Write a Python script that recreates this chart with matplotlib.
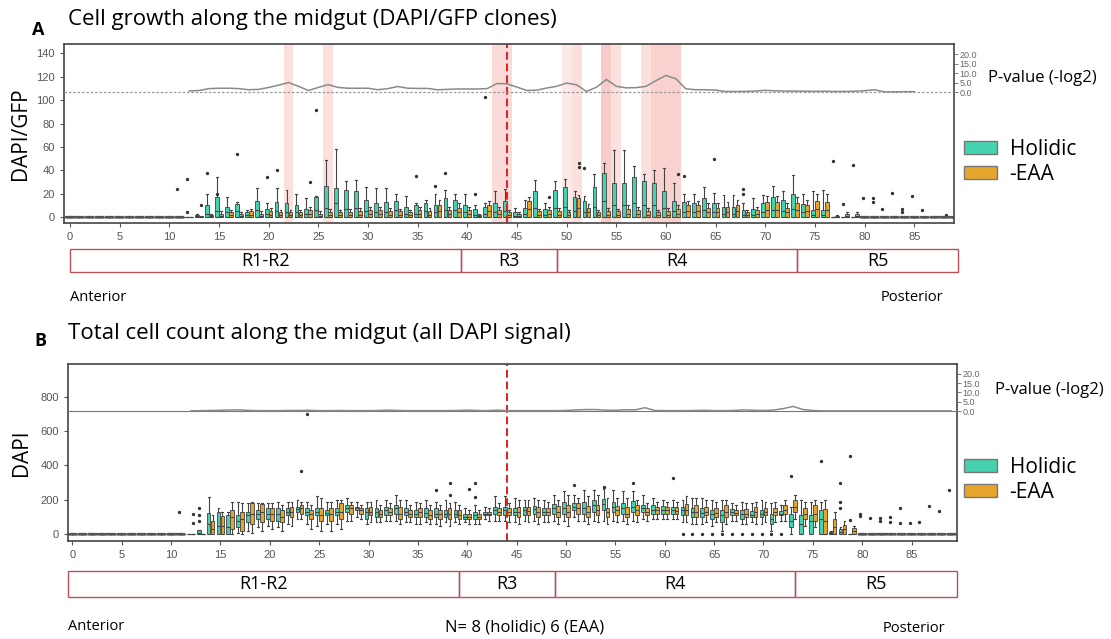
import matplotlib
matplotlib.use("Agg")
import matplotlib.pyplot as plt
from matplotlib.patches import Patch, Rectangle

# ---------------- data ----------------
bins = list(range(12, 80))          # bins that hold real boxes
empty_bins = list(range(0, 12)) + list(range(80, 90))

# Panel A : DAPI/GFP  (q1, median, q3, upper whisker) per bin 12..79
a_hol_q1 = [0] * 68
a_hol_med = [0, 1, 3, 5, 4, 5, 2, 6, 3, 5, 4, 4, 3, 6, 8, 12, 7, 8, 5, 4, 4, 6, 3, 3, 5, 4, 6, 6, 4, 2,
             3, 4, 5, 1, 3, 8, 2, 8, 9, 5, 4, 9, 14, 10, 10, 12, 10, 10, 8, 5, 4, 4, 6, 4, 3, 3, 2, 2,
             4, 6, 5, 7, 4, 2, 2, 0, 0, 0]
a_hol_q3 = [0, 2, 10, 17, 9, 11, 4, 14, 7, 13, 12, 10, 7, 17, 27, 25, 23, 22, 15, 12, 13, 14, 9, 10,
            12, 10, 16, 15, 10, 7, 9, 12, 14, 4, 8, 22, 7, 23, 26, 17, 14, 26, 38, 29, 29, 34, 31, 29,
            22, 14, 13, 12, 16, 12, 9, 9, 6, 7, 12, 17, 15, 20, 11, 6, 6, 0, 0, 0]
a_hol_whi = [0, 3, 20, 34, 17, 13, 6, 25, 12, 25, 23, 20, 16, 18, 49, 58, 31, 32, 26, 25, 25, 20, 18,
             12, 15, 20, 23, 20, 20, 10, 12, 22, 24, 8, 15, 32, 12, 31, 33, 22, 18, 37, 46, 57, 57, 44,
             37, 40, 42, 29, 20, 20, 26, 21, 19, 19, 12, 16, 19, 27, 22, 36, 20, 22, 23, 0, 0, 0]
a_eaa_q1 = [0] * 68
a_eaa_med = [0, 0, 1, 1, 2, 1, 2, 1, 2, 2, 2, 2, 3, 1, 2, 2, 2, 2, 3, 3, 2, 2, 2, 3, 2, 5, 3, 4, 3, 1,
             5, 3, 2, 1, 7, 2, 3, 2, 2, 8, 4, 2, 2, 2, 3, 3, 2, 2, 2, 3, 5, 5, 4, 4, 4, 5, 2, 3, 6, 6,
             4, 6, 5, 7, 6, 0, 1, 1]
a_eaa_q3 = [0, 1, 2, 3, 4, 3, 5, 3, 5, 4, 4, 4, 6, 3, 4, 4, 4, 5, 6, 6, 5, 5, 4, 6, 5, 10, 6, 8, 6, 2,
            10, 6, 4, 3, 14, 5, 6, 5, 4, 16, 8, 4, 5, 5, 7, 6, 5, 4, 5, 7, 10, 10, 8, 8, 9, 10, 4, 6,
            13, 13, 8, 12, 10, 14, 13, 1, 3, 3]
a_eaa_whi = [0, 1, 3, 5, 6, 4, 7, 5, 8, 6, 6, 6, 9, 5, 7, 6, 7, 8, 9, 9, 8, 7, 6, 9, 8, 15, 9, 12, 9,
             3, 14, 9, 6, 4, 17, 7, 9, 8, 6, 19, 11, 6, 8, 7, 10, 9, 8, 6, 8, 10, 14, 14, 12, 12, 13,
             15, 6, 9, 18, 18, 12, 17, 15, 20, 20, 2, 4, 4]
# outliers: (bin, group 0=Holidic 1=-EAA, value)
a_fliers = [(11, 0, 24), (12, 0, 4), (12, 0, 33), (13, 1, 10), (14, 0, 38), (15, 0, 20), (17, 0, 54),
            (20, 0, 34), (21, 0, 40), (24, 1, 30), (25, 0, 92), (35, 0, 35), (37, 0, 27), (38, 0, 38),
            (41, 0, 20), (42, 0, 103), (48, 1, 17), (51, 1, 43), (51, 1, 46), (52, 0, 42), (61, 1, 37),
            (62, 0, 35), (65, 0, 50), (68, 0, 24), (68, 0, 20), (77, 0, 48), (78, 0, 11), (79, 0, 45),
            (80, 0, 16), (81, 0, 16), (81, 0, 13), (82, 0, 7), (83, 0, 21), (84, 0, 7), (84, 0, 4),
            (85, 0, 18), (86, 0, 6), (88, 1, 2)]

# Panel B : DAPI  (q1, median, q3, lower whisker, upper whisker) per bin 12..79
b_hol_q1 = [0, 0, 0, 0, 0, 40, 70, 90, 90, 80, 110, 130, 110, 110, 110, 110, 130, 140, 90, 100, 110,
            120, 110, 100, 100, 100, 100, 100, 90, 90, 110, 120, 110, 110, 110, 120, 110, 120, 120,
            140, 120, 130, 140, 130, 120, 130, 130, 120, 120, 120, 110, 100, 100, 90, 70, 110, 90,
            100, 100, 60, 110, 43, 0, 0, 0, 0, 0, 0]
b_hol_med = [0, 10, 60, 50, 40, 80, 110, 120, 120, 120, 130, 145, 130, 130, 125, 130, 150, 150, 130,
             130, 140, 150, 130, 120, 125, 120, 120, 120, 100, 110, 120, 140, 140, 130, 140, 145,
             130, 150, 150, 160, 150, 170, 175, 160, 150, 160, 150, 140, 140, 140, 140, 130, 125,
             120, 110, 130, 120, 115, 120, 90, 120, 80, 60, 80, 90, 5, 15, 0]
b_hol_q3 = [0, 25, 125, 130, 115, 110, 130, 140, 150, 150, 150, 160, 150, 150, 140, 150, 170, 160,
            150, 150, 160, 170, 150, 140, 150, 150, 140, 140, 120, 130, 130, 160, 160, 150, 160, 165,
            150, 175, 185, 180, 185, 200, 205, 190, 180, 195, 170, 170, 165, 160, 160, 150, 150, 140,
            140, 145, 140, 135, 140, 120, 135, 120, 110, 110, 140, 14, 31, 0]
b_hol_wlo = [0, 0, 0, 0, 0, 10, 20, 40, 50, 40, 60, 90, 60, 50, 60, 60, 80, 100, 60, 70, 80, 80, 70,
             60, 70, 60, 70, 70, 70, 60, 90, 80, 80, 70, 80, 80, 70, 80, 80, 100, 80, 80, 80, 80, 80,
             80, 90, 90, 90, 90, 70, 60, 60, 50, 20, 80, 60, 70, 60, 20, 80, 0, 0, 0, 0, 0, 0, 0]
b_hol_whi = [0, 25, 215, 150, 130, 190, 180, 180, 180, 185, 190, 200, 190, 220, 190, 200, 210, 190,
             190, 200, 200, 230, 200, 190, 200, 190, 200, 190, 150, 170, 160, 220, 220, 210, 200,
             210, 200, 230, 250, 230, 260, 260, 265, 255, 250, 250, 230, 210, 200, 200, 200, 210,
             210, 200, 200, 180, 190, 180, 200, 180, 170, 160, 200, 190, 190, 20, 40, 0]
b_eaa_q1 = [0, 0, 0, 0, 30, 20, 60, 70, 80, 70, 100, 120, 90, 80, 80, 90, 120, 120, 110, 100, 110,
            90, 100, 100, 90, 90, 90, 90, 90, 90, 110, 110, 110, 100, 110, 100, 110, 100, 100, 120,
            100, 110, 100, 110, 100, 110, 110, 120, 120, 120, 110, 100, 110, 100, 100, 110, 100, 100,
            110, 110, 120, 130, 90, 80, 0, 0, 0, 0]
b_eaa_med = [0, 0, 30, 50, 100, 90, 120, 130, 120, 100, 130, 150, 120, 110, 120, 130, 150, 140, 130,
             120, 130, 120, 120, 130, 110, 120, 120, 110, 100, 100, 120, 130, 130, 130, 135, 130, 130,
             130, 130, 150, 130, 140, 130, 140, 120, 140, 130, 140, 140, 135, 140, 130, 130, 125, 130,
             125, 120, 130, 130, 130, 140, 160, 120, 120, 80, 40, 30, 20]
b_eaa_q3 = [0, 0, 75, 105, 140, 130, 180, 175, 150, 140, 160, 170, 140, 150, 150, 180, 170, 150, 160,
            140, 150, 160, 140, 150, 140, 140, 150, 140, 120, 120, 130, 150, 150, 160, 160, 160, 155,
            165, 170, 180, 165, 170, 155, 165, 160, 170, 150, 160, 160, 160, 175, 170, 160, 150, 170,
            140, 145, 160, 150, 150, 170, 198, 150, 170, 146, 91, 56, 39]
b_eaa_wlo = [0, 0, 0, 0, 0, 0, 10, 20, 30, 20, 50, 90, 30, 20, 20, 30, 80, 90, 70, 70, 80, 60, 70, 60,
             60, 50, 50, 60, 60, 60, 80, 80, 70, 60, 70, 60, 70, 60, 50, 80, 60, 70, 60, 70, 60, 70,
             80, 90, 90, 90, 70, 60, 70, 70, 60, 80, 60, 60, 70, 70, 80, 90, 50, 40, 0, 0, 0, 0]
b_eaa_whi = [0, 0, 110, 130, 190, 180, 190, 180, 180, 170, 190, 190, 170, 210, 190, 200, 190, 170,
             190, 170, 180, 200, 170, 180, 170, 170, 180, 170, 140, 140, 150, 180, 180, 200, 200, 200,
             190, 200, 230, 210, 220, 230, 210, 210, 210, 200, 180, 190, 190, 190, 220, 210, 200, 190,
             200, 170, 180, 190, 190, 190, 200, 230, 190, 200, 200, 130, 80, 50]
b_fliers = [(11, 0, 130), (12, 1, 120), (12, 1, 65), (13, 0, 150), (13, 0, 110), (13, 0, 75),
            (23, 1, 370), (24, 0, 700), (37, 0, 255), (38, 1, 300), (38, 1, 230), (40, 1, 265),
            (41, 0, 300), (41, 0, 215), (51, 0, 285), (54, 0, 275), (57, 0, 300), (61, 0, 325),
            (62, 0, 0), (63, 0, 0), (64, 0, 0), (65, 0, 0), (66, 0, 0), (67, 0, 0), (68, 0, 0),
            (69, 0, 0), (70, 0, 0), (71, 0, 0), (72, 0, 0), (73, 0, 340), (76, 0, 425),
            (78, 0, 300), (78, 0, 190), (78, 0, 150), (79, 0, 455), (79, 0, 85), (80, 0, 120),
            (80, 0, 105), (81, 0, 95), (82, 0, 95), (82, 0, 80), (83, 0, 100), (83, 0, 70),
            (84, 0, 155), (84, 0, 65), (85, 0, 65), (86, 0, 70), (87, 0, 165), (88, 0, 135),
            (89, 0, 255)]

# p-value curves (-log2), bins 12..85 for A, 12..89 for B
pv_bins_a = list(range(12, 86))
pv_a = [0.6, 0.8, 1.8, 2.0, 2.0, 1.8, 1.2, 1.4, 2.4, 3.6, 5.0, 3.0, 0.8, 2.4, 3.9, 2.4, 2.0, 2.0,
        2.0, 1.2, 1.8, 2.9, 2.0, 1.9, 1.9, 1.2, 1.4, 1.6, 1.6, 1.6, 1.8, 4.5, 4.3, 2.6, 0.8, 1.0,
        2.1, 3.0, 4.7, 3.8, 0.3, 2.5, 6.6, 3.0, 2.2, 2.3, 3.0, 6.0, 8.7, 7.0, 1.7, 1.2, 1.2, 1.0,
        0.3, 0.3, 0.3, 0.5, 0.9, 0.6, 0.5, 0.5, 0.4, 0.4, 0.4, 0.3, 0.3, 0.4, 0.7, 1.2, 0.1, 0.1,
        0.2, 0.2]
pv_bins_b = list(range(12, 90))
pv_b = [0.1, 0.2, 0.3, 0.4, 0.6, 0.6, 0.3, 0.2, 0.2, 0.2, 0.3, 0.3, 0.4, 0.2, 0.2, 0.3, 0.2, 0.2,
        0.2, 0.3, 0.5, 0.3, 0.2, 0.2, 0.2, 0.2, 0.2, 0.3, 0.5, 0.3, 0.2, 0.5, 0.2, 0.2, 0.2, 0.2,
        0.2, 0.2, 0.3, 0.6, 0.8, 0.8, 0.5, 0.4, 0.7, 0.6, 1.8, 0.3, 0.2, 0.2, 0.2, 0.3, 0.4, 0.2,
        0.2, 0.3, 0.6, 0.4, 0.3, 0.5, 1.3, 2.5, 0.8, 0.3, 0.1, 0.1, 0.1, 0.1, 0.1, 0.1, 0.1, 0.1,
        0.1, 0.1, 0.1, 0.1, 0.1, 0.1]

# significant bins in panel A (shaded) and their shade strength
sig_bins = [22, 26, 43, 44, 50, 51, 54, 55, 58, 59, 60, 61]
sig_alpha = [0.30, 0.30, 0.35, 0.35, 0.22, 0.30, 0.50, 0.30, 0.30, 0.45, 0.45, 0.45]

regions = ["R1-R2", "R3", "R4", "R5"]
region_edges_a = [0, 39.4, 49.0, 73.2, 89.4]
region_edges_b = [-0.4, 39.2, 48.9, 73.2, 89.6]
cut_bin = 44

TEAL = "#44d2b0"
ORANGE = "#e6a52c"
EDGE = "#555555"

plt.rcParams["font.family"] = "Liberation Sans"
fig = plt.figure(figsize=(11.11, 6.39), dpi=100)


def draw_boxes(ax, groups, fliers):
    for g, (q1, med, q3, wlo, whi, col) in enumerate(groups):
        off = -0.2 if g == 0 else 0.2
        stats = []
        for i, b in enumerate(bins):
            fl = [v for (fb, fg, v) in fliers if fb == b and fg == g]
            stats.append(dict(q1=q1[i], med=med[i], q3=q3[i], whislo=wlo[i], whishi=whi[i], fliers=fl))
        ax.bxp(stats, positions=[b + off for b in bins], widths=0.38, patch_artist=True,
               showcaps=True, manage_ticks=False,
               boxprops=dict(facecolor=col, edgecolor=EDGE, linewidth=0.7),
               medianprops=dict(color="#444444", linewidth=0.8),
               whiskerprops=dict(color="#444444", linewidth=0.8),
               capprops=dict(color="#444444", linewidth=0.8),
               flierprops=dict(marker="o", markersize=1.4, markerfacecolor="#333333",
                               markeredgecolor="#333333"))
    # empty bins: flat boxes at zero
    zero = [dict(q1=0, med=0, q3=0, whislo=0, whishi=0, fliers=[]) for _ in empty_bins]
    for off in (-0.2, 0.2):
        ax.bxp(zero, positions=[b + off for b in empty_bins], widths=0.52, manage_ticks=False,
               boxprops=dict(color="#555555", linewidth=1.0),
               medianprops=dict(color="#555555", linewidth=1.6),
               whiskerprops=dict(color="#555555"), capprops=dict(color="#555555"))
    extra = [(fb, fg, v) for (fb, fg, v) in fliers if fb not in bins]
    ax.plot([fb + (-0.2 if fg == 0 else 0.2) for fb, fg, v in extra], [v for fb, fg, v in extra],
            "o", ms=1.4, color="#333333", ls="none")


def style_axes(ax, xlim, ylim, yticks):
    ax.set_xlim(*xlim)
    ax.set_ylim(*ylim)
    ax.set_xticks(range(0, 90, 5))
    ax.set_yticks(yticks)
    ax.tick_params(labelsize=8, colors="#555555", length=3, width=0.8)
    for s in ax.spines.values():
        s.set_color("#444444")
        s.set_linewidth(1.2)


def draw_pvalue(ax, pbins, pv, ylim, base_style):
    ax2 = ax.twinx()
    ax2.set_ylim(*ylim)
    ax2.set_yticks([0, 5, 10, 15, 20])
    ax2.set_yticklabels(["0.0", "5.0", "10.0", "15.0", "20.0"])
    ax2.tick_params(labelsize=6.5, colors="#666666", length=3, width=0.6, pad=1)
    ax2.axhline(0, **base_style)
    ax2.plot(pbins, pv, color="#8a8a8a", lw=1.1)
    for s in ax2.spines.values():
        s.set_visible(False)
    return ax2


def draw_regions(rect, edges, xlim):
    rax = fig.add_axes(rect)
    rax.set_xlim(*xlim)
    rax.set_ylim(0, 1)
    rax.axis("off")
    for name, x0, x1 in zip(regions, edges[:-1], edges[1:]):
        rax.add_patch(Rectangle((x0, 0), x1 - x0, 1, fill=False, edgecolor="#b5525c",
                                linewidth=1.0, clip_on=False))
        rax.text((x0 + x1) / 2, 0.5, name, ha="center", va="center", fontsize=13,
                 family="Open Sans", clip_on=False)


# ---------------- panel A ----------------
xlim_a = (-0.6, 89.0)
axA = fig.add_axes([64 / 1111, 1 - 223 / 639, 890 / 1111, 179 / 639])
for b, al in zip(sig_bins, sig_alpha):
    axA.axvspan(b - 0.5, b + 0.5, color="#f29a94", alpha=al, lw=0)
draw_boxes(axA, [(a_hol_q1, a_hol_med, a_hol_q3, a_hol_q1, a_hol_whi, TEAL),
                 (a_eaa_q1, a_eaa_med, a_eaa_q3, a_eaa_q1, a_eaa_whi, ORANGE)], a_fliers)
style_axes(axA, xlim_a, (-5, 148), range(0, 141, 20))
axA.axvline(cut_bin, color="#e0201c", lw=1.4, ls=(0, (4, 2)))
axA.set_ylabel("DAPI/GFP", fontsize=15, family="Open Sans", labelpad=4)
draw_pvalue(axA, pv_bins_a, pv_a, (-69, 25.3), dict(color="#999999", lw=0.9, ls=(0, (2, 1.5))))
draw_regions([64 / 1111, 1 - 272 / 639, 890 / 1111, 23 / 639], region_edges_a, xlim_a)

fig.text(38 / 1111, 1 - 30 / 639, "A", fontsize=13, fontweight="bold", family="Open Sans",
         ha="center", va="center")
fig.text(68 / 1111, 1 - 20 / 639, "Cell growth along the midgut (DAPI/GFP clones)", fontsize=16,
         family="Open Sans", va="center")
fig.text(70 / 1111, 1 - 297 / 639, "Anterior", fontsize=10.5, family="Open Sans", va="center")
fig.text(943 / 1111, 1 - 297 / 639, "Posterior", fontsize=10.5, family="Open Sans", va="center",
         ha="right")
fig.text(988 / 1111, 1 - 78 / 639, "P-value (-log2)", fontsize=12, family="Open Sans", va="center")

# ---------------- panel B ----------------
xlim_b = (-0.44, 89.6)
axB = fig.add_axes([68 / 1111, 1 - 541 / 639, 889 / 1111, 177 / 639])
draw_boxes(axB, [(b_hol_q1, b_hol_med, b_hol_q3, b_hol_wlo, b_hol_whi, TEAL),
                 (b_eaa_q1, b_eaa_med, b_eaa_q3, b_eaa_wlo, b_eaa_whi, ORANGE)], b_fliers)
style_axes(axB, xlim_b, (-39, 990), range(0, 801, 200))
axB.axvline(cut_bin, color="#e0201c", lw=1.4, ls=(0, (4, 2)))
axB.set_ylabel("DAPI", fontsize=15, family="Open Sans", labelpad=6)
draw_pvalue(axB, pv_bins_b, pv_b, (-69.9, 25.3), dict(color="#777777", lw=0.8))
draw_regions([68 / 1111, 1 - 597 / 639, 889 / 1111, 26 / 639], region_edges_b, xlim_b)

fig.text(40 / 1111, 1 - 341 / 639, "B", fontsize=13, fontweight="bold", family="Open Sans",
         ha="center", va="center")
fig.text(68 / 1111, 1 - 333 / 639, "Total cell count along the midgut (all DAPI signal)",
         fontsize=16, family="Open Sans", va="center")
fig.text(68 / 1111, 1 - 627 / 639, "Anterior", fontsize=10.5, family="Open Sans", va="center")
fig.text(945 / 1111, 1 - 629 / 639, "Posterior", fontsize=10.5, family="Open Sans", va="center",
         ha="right")
fig.text(525 / 1111, 1 - 627 / 639, "N= 8 (holidic) 6 (EAA)", fontsize=12, family="Open Sans",
         va="center", ha="center")
fig.text(995 / 1111, 1 - 390 / 639, "P-value (-log2)", fontsize=12, family="Open Sans", va="center")

# legends
handles = [Patch(facecolor=TEAL, edgecolor="#777777"), Patch(facecolor=ORANGE, edgecolor="#777777")]
for y in (1 - 120 / 639, 1 - 438 / 639):
    fig.legend(handles, ["Holidic", "-EAA"], loc="upper left", bbox_to_anchor=(945 / 1111, y),
               frameon=False, prop=dict(family="Open Sans", size=15), handlelength=1.6,
               handleheight=0.6, handletextpad=0.6, labelspacing=0.2)

fig.savefig("out.png", dpi=100)
